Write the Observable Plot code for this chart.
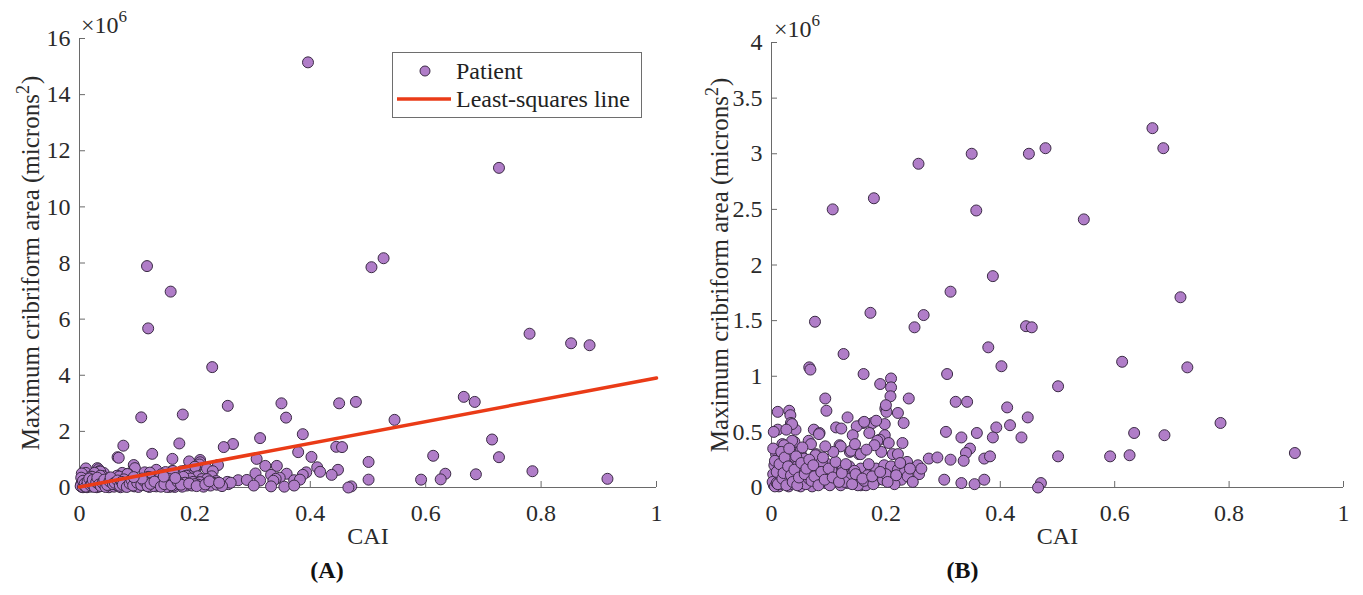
<!DOCTYPE html>
<html><head><meta charset="utf-8">
<script src="https://cdn.jsdelivr.net/npm/d3@7"></script>
<script src="https://cdn.jsdelivr.net/npm/@observablehq/plot@0.6"></script>
<style>
body{margin:0;background:#fff;}
#wrap{position:relative;width:1363px;height:595px;overflow:hidden;background:#fff;}
#wrap > svg{position:absolute;top:0;}
.exp{position:absolute;font-family:"Liberation Serif","Times New Roman",serif;font-size:24px;line-height:24px;color:#2a2a2a;white-space:nowrap;}
.exp span{position:relative;top:-11px;font-size:17px;}
</style></head><body><div id="wrap"></div>
<script>
// CAI vs maximum cribriform area (x10^6 microns^2), one [cai, area] pair per patient
const patientsHigh = [
[0.396,15.15],[0.727,11.39],[0.527,8.17],[0.506,7.85],[0.117,7.89],[0.158,6.98],[0.119,5.67],[0.780,5.48],[0.852,5.14],[0.884,5.07],[0.230,4.29],
[0.666,3.23],[0.685,3.05],[0.479,3.05],[0.450,3.00],[0.350,3.00],[0.257,2.91],[0.179,2.60],[0.107,2.50],[0.358,2.49],[0.546,2.41],[0.387,1.90],
[0.313,1.76],[0.715,1.71],[0.173,1.57],[0.266,1.55],[0.076,1.49],[0.250,1.44],[0.445,1.45],[0.455,1.44],[0.379,1.26],[0.126,1.20],[0.613,1.13],
[0.066,1.08],[0.068,1.06],[0.402,1.09],[0.727,1.08],[0.161,1.02],[0.307,1.02]
];
const patientsMid = [
[0.209,0.98],[0.190,0.93],[0.209,0.90],[0.501,0.91],[0.208,0.82],[0.094,0.80],[0.240,0.80],[0.322,0.77],[0.342,0.77],[0.199,0.71],[0.201,0.68],
[0.412,0.72],[0.096,0.69],[0.011,0.68],[0.031,0.69],[0.033,0.65],[0.221,0.67],[0.133,0.63],[0.448,0.63],[0.231,0.58],[0.177,0.58],[0.160,0.58],
[0.198,0.57],[0.034,0.58],[0.785,0.58],[0.113,0.54],[0.122,0.53],[0.149,0.55],[0.074,0.52],[0.011,0.52],[0.042,0.52],[0.084,0.49],[0.417,0.56],
[0.393,0.54],[0.305,0.50],[0.359,0.49],[0.634,0.49],[0.687,0.47],[0.332,0.45],[0.387,0.45],[0.437,0.45],[0.171,0.49],[0.198,0.47],[0.200,0.74],
[0.183,0.60],[0.162,0.59],[0.142,0.47],[0.189,0.43],[0.036,0.57],[0.026,0.52]
];
const patientsLow = [
[0.065,0.42],[0.040,0.41],[0.019,0.39],[0.119,0.38],[0.185,0.42],[0.205,0.40],[0.229,0.40],[0.347,0.35],[0.340,0.31],[0.192,0.32],[0.137,0.32],
[0.153,0.30],[0.053,0.28],[0.037,0.32],[0.078,0.30],[0.212,0.30],[0.221,0.30],[0.275,0.26],[0.290,0.27],[0.313,0.25],[0.336,0.24],[0.372,0.26],
[0.382,0.28],[0.501,0.28],[0.592,0.28],[0.626,0.29],[0.915,0.31],[0.237,0.23],[0.258,0.18],[0.258,0.12],[0.233,0.16],[0.206,0.18],[0.302,0.07],
[0.332,0.04],[0.355,0.03],[0.372,0.07],[0.471,0.04],[0.466,0.00],[0.004,0.50],[0.036,0.42],[0.022,0.38],[0.051,0.33],[0.069,0.39],[0.083,0.48],
[0.121,0.37],[0.139,0.33],[0.156,0.30],[0.180,0.38],[0.256,0.20],[0.262,0.17]
];
const patientsCluster = [
[0.016,0.26],[0.039,0.24],[0.057,0.26],[0.077,0.29],[0.098,0.21],[0.115,0.19],[0.136,0.19],[0.156,0.17],[0.174,0.16],[0.010,0.16],[0.028,0.14],
[0.048,0.14],[0.069,0.13],[0.092,0.11],[0.110,0.13],[0.133,0.11],[0.151,0.10],[0.168,0.11],[0.007,0.07],[0.022,0.05],[0.039,0.07],[0.057,0.05],
[0.077,0.04],[0.095,0.04],[0.115,0.07],[0.133,0.04],[0.156,0.02],[0.004,0.02],[0.013,0.01],[0.030,0.01],[0.051,0.01],[0.071,0.01],
[0.183,0.17],[0.197,0.20],[0.209,0.19],[0.221,0.16],[0.233,0.14],[0.186,0.07],[0.206,0.10],[0.227,0.07],[0.165,0.02],[0.151,0.02],[0.121,0.02],
[0.098,0.13],[0.115,0.10],[0.136,0.08],[0.238,0.10],[0.247,0.05],
[0.003,0.12],[0.005,0.20],[0.008,0.30],[0.012,0.09],[0.018,0.18],[0.020,0.03],[0.025,0.22],[0.027,0.10],[0.033,0.03],[0.035,0.18],[0.044,0.05],
[0.046,0.20],[0.050,0.10],[0.055,0.17],[0.060,0.03],[0.062,0.21],[0.065,0.08],[0.080,0.16],[0.085,0.06],[0.088,0.23],[0.102,0.02],[0.105,0.15],
[0.125,0.17],[0.128,0.05],[0.145,0.15],[0.162,0.06],[0.178,0.03],[0.195,0.07],[0.215,0.03],[0.200,0.12],[0.002,0.05],[0.006,0.01],[0.009,0.04],
[0.015,0.11],[0.024,0.07],[0.042,0.12]
];
const patientsCore = [
[0.003,0.35],[0.006,0.24],[0.009,0.14],[0.011,0.03],[0.014,0.21],[0.017,0.32],[0.019,0.08],[0.021,0.13],[0.023,0.27],[0.026,0.02],[0.029,0.19],
[0.031,0.35],[0.034,0.11],[0.037,0.05],[0.040,0.16],[0.043,0.28],[0.045,0.02],[0.048,0.09],[0.052,0.22],[0.054,0.36],[0.058,0.12],[0.061,0.17],
[0.066,0.25],[0.070,0.06],[0.073,0.20],[0.075,0.10],[0.082,0.02],[0.087,0.14],[0.090,0.27],[0.093,0.07],[0.100,0.17],[0.107,0.09],[0.112,0.23],
[0.118,0.05],[0.123,0.13],[0.130,0.21],[0.141,0.03],[0.147,0.12],[0.159,0.08],[0.170,0.21],[0.176,0.10],[0.190,0.14],[0.203,0.05],[0.218,0.11],
[0.225,0.22],[0.242,0.17],[0.166,0.34],[0.108,0.32],[0.094,0.37],[0.146,0.39]
];
// least-squares line end points (CAI, area x10^6)
const fitCAI = [0, 1];
const fitArea = [0.02, 3.9];
// axes
const xTicks = [0, 0.2, 0.4, 0.6, 0.8, 1];
const yTicksA = [0, 2, 4, 6, 8, 10, 12, 14, 16];
const yTicksB = [0, 0.5, 1, 1.5, 2, 2.5, 3, 3.5, 4];
const xLabel = "CAI";
const yLabel = "Maximum cribriform area (microns2)";
const legendLabels = ["Patient", "Least-squares line"];

const FONT = "'Liberation Serif', 'Times New Roman', serif";
const TXT = "#2a2a2a";
const AX = "#6a6a6a";
const DOT_FILL = "#b07dc8";
const DOT_STROKE = "#3b2b45";
const LINE = "#ea3b17";

const points = [...patientsHigh, ...patientsMid, ...patientsLow, ...patientsCluster, ...patientsCore]
  .map(([c, a]) => ({cai: c, area: a}));
const fit = fitCAI.map((c, i) => ({cai: c, area: fitArea[i]}));

function panel({width, left, top, right, yMax, yTicks, yLabelDx, tag, tagDx, showFit}) {
  const bottom = 108;
  const H = 595 - top - bottom;
  const W = width - left - right;
  const marks = [
    Plot.ruleX([0], {stroke: AX, strokeWidth: 1}),
    Plot.ruleY([0], {stroke: AX, strokeWidth: 1}),
    Plot.tickX(xTicks, {x: d => d, stroke: AX, insetTop: H - 6}),
    Plot.tickY(yTicks, {y: d => d, stroke: AX, insetRight: W - 6}),
    Plot.axisX(xTicks, {tickSize: 0, tickPadding: 16, tickFormat: d => String(d), fontSize: 24, fill: TXT, label: null}),
    Plot.axisY(yTicks, {tickSize: 0, tickPadding: 9, tickFormat: d => String(d), fontSize: 24, fill: TXT, label: null}),
    Plot.dot(points, {x: "cai", y: "area", filter: d => d.area <= yMax, r: 5.5, fill: DOT_FILL, stroke: DOT_STROKE, strokeWidth: 1})
  ];
  if (showFit) marks.push(Plot.line(fit, {x: "cai", y: "area", stroke: LINE, strokeWidth: 3.5}));
  marks.push(
    Plot.text([xLabel], {frameAnchor: "bottom", dy: 56, fontSize: 24, fill: TXT}),
    Plot.text([yLabel], {frameAnchor: "left", textAnchor: "middle", rotate: -90, dx: yLabelDx, fontSize: 25, fill: TXT, className: "ylab"}),
    Plot.text([tag], {frameAnchor: "bottom", dy: 90, dx: tagDx, fontSize: 24, fontWeight: "bold", fill: "#111"})
  );
  const svg = Plot.plot({
    width, height: 595,
    marginLeft: left, marginRight: right, marginTop: top, marginBottom: bottom,
    x: {domain: [0, 1]},
    y: {domain: [0, yMax]},
    style: {fontFamily: FONT, fontSize: "24px", color: TXT, background: "white", overflow: "visible"},
    marks
  });
  // superscript the "2" of microns²
  svg.querySelectorAll("g.ylab text").forEach(t => {
    const s = t.textContent;
    if (s.endsWith("2)")) {
      t.textContent = "";
      const ns = "http://www.w3.org/2000/svg";
      const t1 = document.createElementNS(ns, "tspan"); t1.textContent = s.slice(0, -2);
      const t2 = document.createElementNS(ns, "tspan"); t2.textContent = "2";
      t2.setAttribute("dy", "-10"); t2.setAttribute("font-size", "18");
      const t3 = document.createElementNS(ns, "tspan"); t3.textContent = ")";
      t3.setAttribute("dy", "10"); t3.setAttribute("dx", "1");
      t.append(t1, t2, t3);
    }
  });
  return svg;
}

const wrap = document.getElementById("wrap");
const a = panel({width: 680, left: 79, top: 38, right: 24, yMax: 16, yTicks: yTicksA, yLabelDx: -49, tag: "(A)", tagDx: -41, showFit: true});
a.style.left = "0px";
const b = panel({width: 683, left: 91, top: 42, right: 20, yMax: 4, yTicks: yTicksB, yLabelDx: -52, tag: "(B)", tagDx: -95, showFit: false});
b.style.left = "680px";
wrap.appendChild(b);
wrap.appendChild(a);

// exponent labels
for (const [x, y] of [[81, 13], [774, 17]]) {
  const d = document.createElement("div");
  d.className = "exp";
  d.style.left = x + "px";
  d.style.top = y + "px";
  d.innerHTML = "×10<span>6</span>";
  wrap.appendChild(d);
}

// legend
const ns = "http://www.w3.org/2000/svg";
const lg = document.createElementNS(ns, "svg");
lg.setAttribute("width", 250); lg.setAttribute("height", 66);
lg.style.cssText = "position:absolute;left:392px;top:52px;font-family:" + FONT + ";font-size:24px;";
lg.innerHTML =
  `<rect x="0.5" y="0.5" width="249" height="65" fill="white" stroke="#6e6e6e"/>` +
  `<circle cx="33" cy="19" r="5" fill="${DOT_FILL}" stroke="${DOT_STROKE}"/>` +
  `<line x1="5" x2="59" y1="47" y2="47" stroke="${LINE}" stroke-width="3.5"/>` +
  `<text x="64" y="27" fill="#222">${legendLabels[0]}</text>` +
  `<text x="64" y="55" fill="#222">${legendLabels[1]}</text>`;
wrap.appendChild(lg);
</script></body></html>
